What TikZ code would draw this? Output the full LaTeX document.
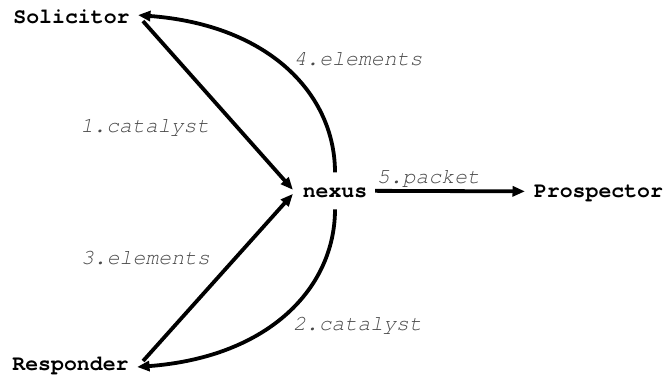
\documentclass[tikz,border=0pt]{standalone}
\usepackage{fontspec}
\setmonofont{texgyrecursor}[Extension=.otf,UprightFont=*-regular,BoldFont=*-bold,ItalicFont=*-italic,BoldItalicFont=*-bolditalic]
\usetikzlibrary{arrows.meta,calc}
\definecolor{labelgrey}{HTML}{4A4A4A}
\begin{document}
\begin{tikzpicture}[x=1bp,y=-1bp,
  every node/.style={inner sep=0pt,outer sep=0pt,font=\ttfamily\fontsize{21.5bp}{24bp}\selectfont},
  party/.style={font=\ttfamily\bfseries\fontsize{21.5bp}{24bp}\selectfont,anchor=base},
  msg/.style={font=\ttfamily\itshape\fontsize{21.5bp}{24bp}\selectfont,text=labelgrey,anchor=base},
  flow/.style={line width=3.8bp,-{Triangle[length=12.5bp,width=10bp]}}]
\useasboundingbox (0,0) rectangle (664,380);

% parties
\node[party] (sol) at (71.5,23)  {Solicitor};
\node[party] (nex) at (335,197)  {nexus};
\node[party] (pro) at (598.5,197) {Prospector};
\node[party] (res) at (70.5,370) {Responder};

% requests into the hub
\draw[flow] ($(sol.east)+(13.4,4.8)$) -- ($(nex.west)+(-9.8,-2.5)$);
\draw[flow] ($(res.east)+(14.5,-4.5)$) -- ($(nex.west)+(-9.8,1.5)$);

% replies back out of the hub
\draw[flow] ($(nex.north)+(0,-15)$) .. controls (335,95) and (270,25) .. ($(sol.east)+(8.4,-1.2)$);
\draw[flow] ($(nex.south)+(0,12)$) .. controls (335,287) and (270,357) .. ($(res.east)+(8.5,1.5)$);

% final delivery
\draw[flow] ($(nex.east)+(7.8,-1.5)$) -- ($(pro.west)+(-9,-1.5)$);

% message labels
\node[msg] (m1) at (145,132)   {1.catalyst};
\node[msg] (m2) at (357.5,330) {2.catalyst};
\node[msg] (m3) at (145.5,264) {3.elements};
\node[msg] (m4) at (358,65)    {4.elements};
\node[msg] (m5) at (428.5,183) {5.packet};
\end{tikzpicture}
\end{document}
